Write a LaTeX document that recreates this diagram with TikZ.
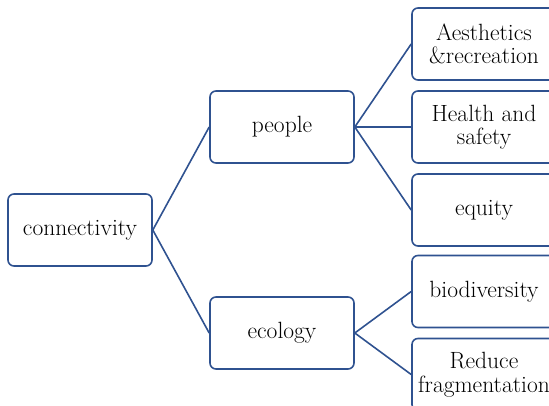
\documentclass[tikz,border=0pt]{standalone}
\definecolor{boxblue}{HTML}{2F5290}
\tikzset{
    box/.style={draw=boxblue, line width=1.6pt, rounded corners=6pt, align=center,
        minimum width=144pt, minimum height=72pt, inner sep=2pt,
        font=\fontsize{23.5}{23.5}\selectfont}
}
\begin{document}
\begin{tikzpicture}[
            grow'=right,
            level distance=202pt,
            level 1/.style={sibling distance=206pt},
            level 2/.style={sibling distance=83pt},
            every node/.style={box},
            edge from parent/.style={draw=boxblue, line width=1.6pt},
            edge from parent path={(\tikzparentnode.east) -- (\tikzchildnode.west)}
            ]
            \useasboundingbox (-80pt,-175pt) rectangle (469pt,230pt);
            \clip (-80pt,-175pt) rectangle (469pt,230pt);
            \node (conn) {connectivity}
                child { node (people) {people}
                    child { node (aest) {Aesthetics\\\&recreation} }
                    child { node (health) {Health and\\safety} }
                    child { node (equity) {equity} }
                }
                child { node (ecology) {ecology}
                    child { node (biodiv) {biodiversity} }
                    child { node (frag) {Reduce\\fragmentation} }
                }
                ;
        \end{tikzpicture}
\end{document}
